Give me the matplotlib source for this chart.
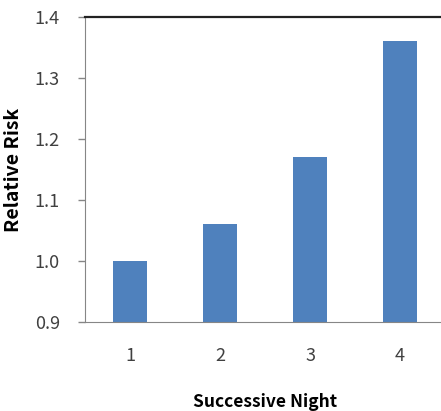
import matplotlib.pyplot as plt

plt.rcParams['font.family'] = ['Noto Sans CJK KR', 'DejaVu Sans']

# data
nights = ['1', '2', '3', '4']
risk = [1.00, 1.06, 1.17, 1.36]
yticks = [0.9, 1.0, 1.1, 1.2, 1.3, 1.4]

fig = plt.figure(figsize=(4.41, 4.11), dpi=100)
ax = fig.add_axes([85 / 441, 89 / 411, 360 / 441, 305 / 411])

x = range(1, len(nights) + 1)
ax.bar(x, risk, width=0.38, color='#4F81BD', bottom=0)

ax.set_xlim(0.5, 4.5)
ax.set_ylim(0.9, 1.4)
ax.set_yticks(yticks)
ax.set_yticklabels([f"{v:.1f}" for v in yticks])
ax.set_xticks(list(x))
ax.set_xticklabels(nights)

ax.tick_params(axis='y', direction='out', length=5, width=1, color='#868686',
               labelsize=13, labelcolor='#404040', pad=13)
ax.tick_params(axis='x', length=0, labelsize=13, labelcolor='#404040', pad=18)

ax.spines['right'].set_visible(False)
ax.spines['left'].set_color('#868686')
ax.spines['bottom'].set_color('#868686')
ax.spines['top'].set_color('#222222')
ax.spines['top'].set_linewidth(1.6)

ax.set_xlabel('Successive Night', fontsize=12.5, fontweight='bold', labelpad=20)
ax.yaxis.set_label_coords(-62 / 360, 0.5)
ax.set_ylabel('Relative Risk', fontsize=14, fontweight='bold')

plt.savefig('out.png', dpi=100)
